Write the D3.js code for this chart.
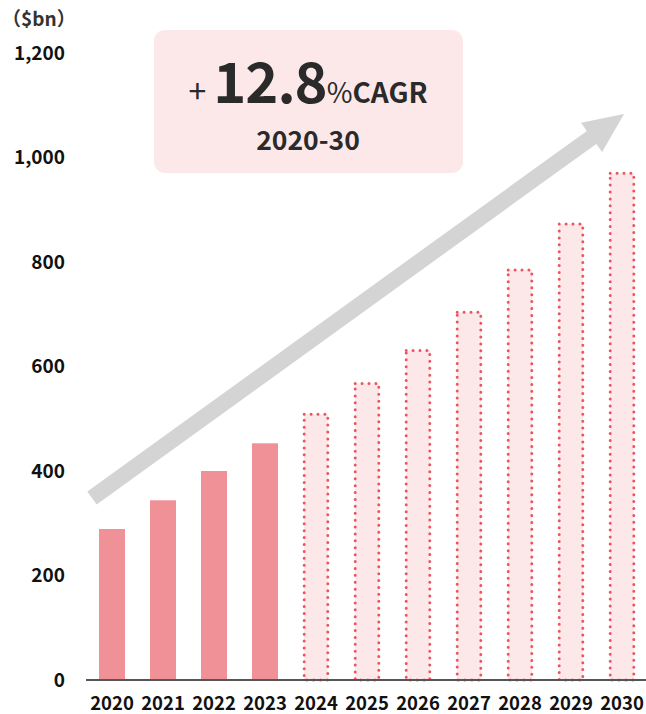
<!DOCTYPE html>
<html><head><meta charset="utf-8">
<script src="https://cdn.jsdelivr.net/npm/d3@7"></script>
<style>
body{margin:0;background:#fff;}
svg{display:block;font-family:"Noto Sans CJK JP","Noto Sans",sans-serif;}
</style></head>
<body><svg id="c" width="646" height="714"></svg>
<script>
const years = ["2020","2021","2022","2023","2024","2025","2026","2027","2028","2029","2030"];
const values = [289, 344, 400, 453, 511, 570, 633, 706, 787, 875, 972];
const forecast = [false,false,false,false,true,true,true,true,true,true,true];
const yTicks = [0,200,400,600,800,1000,1200];
const unitLabel = "（$bn）";
const cagrValue = "12.8";
const cagrPeriod = "2020-30";

const svg = d3.select("#c");
const x = d3.scaleBand().domain(years).range([86.5, 647.5]).paddingInner(0.49).paddingOuter(0.245);
const y = d3.scaleLinear().domain([0,1200]).range([680, 53]);

// y tick labels
svg.append("g").selectAll("text").data(yTicks).join("text")
  .attr("x", 65).attr("y", d => y(d)).attr("dy", "0.36em")
  .attr("text-anchor","end").attr("font-size", 19).attr("font-weight","bold").attr("fill","#111")
  .text(d => d3.format(",")(d));
svg.append("text").attr("x", 2).attr("y", 26).attr("font-size", 19).attr("font-weight","bold").attr("fill","#333").text(unitLabel);

// bars
const bw = x.bandwidth();
svg.append("g").selectAll("rect.a").data(years.filter((d,i)=>!forecast[i])).join("rect")
  .attr("x", d => x(d)).attr("y", d => y(values[years.indexOf(d)]))
  .attr("width", bw).attr("height", d => y(0) - y(values[years.indexOf(d)]))
  .attr("fill", "#f09198");
svg.append("g").selectAll("rect.b").data(years.filter((d,i)=>forecast[i])).join("rect")
  .attr("x", d => x(d)+1.2).attr("y", d => y(values[years.indexOf(d)])+1.2)
  .attr("width", bw-2.4).attr("height", d => y(0) - y(values[years.indexOf(d)])-1.2)
  .attr("fill", "#fce8e9").attr("stroke","#ea5560").attr("stroke-width",3)
  .attr("stroke-linecap","round").attr("stroke-dasharray","0 6.9");

// axis line
svg.append("line").attr("x1",86).attr("x2",646).attr("y1",680).attr("y2",680)
  .attr("stroke","#555").attr("stroke-width",2);

// x labels
svg.append("g").selectAll("text").data(years).join("text")
  .attr("x", d => x(d)+bw/2).attr("y", 710).attr("text-anchor","middle")
  .attr("font-size",18.5).attr("font-weight","bold").attr("fill","#111").text(d=>d);

// arrow
const p0 = [92, 498], p1 = [624, 114];
const ang = Math.atan2(p1[1]-p0[1], p1[0]-p0[0]);
const len = Math.hypot(p1[0]-p0[0], p1[1]-p0[1]);
const sw = 8, hw = 18, hl = 40;
const g = svg.append("g").attr("transform", `translate(${p0[0]},${p0[1]}) rotate(${ang*180/Math.PI})`);
g.append("path").attr("d", `M0,${-sw} L${len-hl},${-sw} L${len-hl},${-hw} L${len},0 L${len-hl},${hw} L${len-hl},${sw} L0,${sw} Z`)
  .attr("fill","#d4d4d4");

// CAGR box
svg.append("rect").attr("x",154).attr("y",30).attr("width",309).attr("height",143).attr("rx",11)
  .attr("fill","#fce8e9");
const t = svg.append("text").attr("x",308).attr("y",103).attr("text-anchor","middle").attr("fill","#2a2a2a");
t.append("tspan").attr("font-size",32).attr("font-weight","normal").text("+ ");
t.append("tspan").attr("font-size",56).attr("font-weight","bold").attr("letter-spacing","-1").text(cagrValue);
t.append("tspan").attr("font-size",28).attr("font-weight","normal").text("%");
t.append("tspan").attr("font-size",28).attr("font-weight","bold").text("CAGR");
svg.append("text").attr("x",308).attr("y",150).attr("text-anchor","middle").attr("fill","#2a2a2a")
  .attr("font-size",26.5).attr("font-weight","bold").text(cagrPeriod);
</script></body></html>
